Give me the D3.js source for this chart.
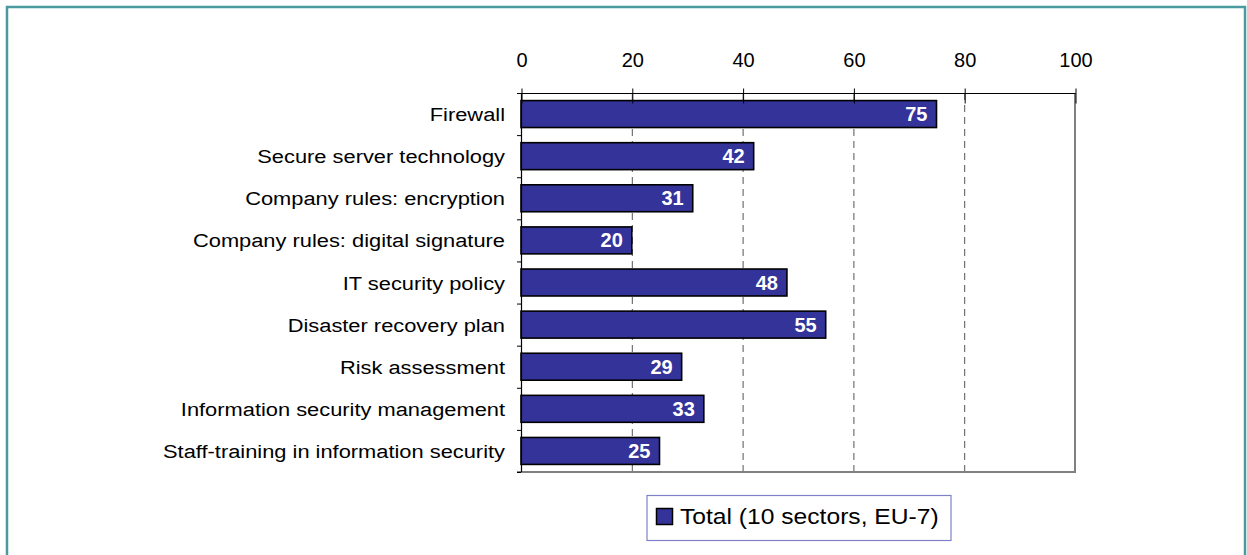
<!DOCTYPE html>
<html>
<head>
<meta charset="utf-8">
<script src="https://cdn.jsdelivr.net/npm/d3@7"></script>
<style>
  html, body { margin: 0; padding: 0; background: #fff; }
  svg { display: block; font-family: "Liberation Sans", Arial, sans-serif; }
</style>
</head>
<body>
<svg id="chart" width="1247" height="555"></svg>
<script>
// Security measures in place (% of enterprises)
const categories = [
  "Firewall",
  "Secure server technology",
  "Company rules: encryption",
  "Company rules: digital signature",
  "IT security policy",
  "Disaster recovery plan",
  "Risk assessment",
  "Information security management",
  "Staff-training in information security"
];
const values = [75, 42, 31, 20, 48, 55, 29, 33, 25];
const xTicks = [0, 20, 40, 60, 80, 100];
const seriesName = "Total (10 sectors, EU-7)";

const svg = d3.select("#chart");
const W = 1247, H = 555;
const plot = { left: 521, right: 1075, top: 93, bottom: 472 };
const wideText = 1.15; // horizontally widened label lettering

svg.append("rect").attr("width", W).attr("height", H).attr("fill", "#fff");

// outer frame
svg.append("rect")
  .attr("x", 7).attr("y", 7)
  .attr("width", 1238).attr("height", 620)
  .attr("fill", "none")
  .attr("stroke", "#4A9AA0")
  .attr("stroke-width", 2.5);

const x = d3.scaleLinear().domain([0, 100]).range([plot.left, plot.right]);
const y = d3.scaleBand().domain(categories).range([plot.top, plot.bottom])
  .paddingInner(0.36).paddingOuter(0.18);

// dashed vertical gridlines
svg.append("g").selectAll("line")
  .data(xTicks.filter(t => t > 0 && t < 100))
  .join("line")
  .attr("x1", d => x(d) + 0.5).attr("x2", d => x(d) + 0.5)
  .attr("y1", plot.top).attr("y2", plot.bottom)
  .attr("stroke", "#555")
  .attr("stroke-width", 1)
  .attr("stroke-dasharray", "7,5");

// right and bottom plot edges
svg.append("line")
  .attr("x1", plot.right).attr("x2", plot.right)
  .attr("y1", plot.top).attr("y2", plot.bottom)
  .attr("stroke", "#808080").attr("stroke-width", 2);
svg.append("line")
  .attr("x1", plot.left - 4).attr("x2", plot.right + 1)
  .attr("y1", plot.bottom).attr("y2", plot.bottom)
  .attr("stroke", "#808080").attr("stroke-width", 2);

// bars
svg.append("g").selectAll("rect")
  .data(values)
  .join("rect")
  .attr("x", plot.left)
  .attr("y", (d, i) => y(categories[i]))
  .attr("width", d => x(d) - x(0))
  .attr("height", y.bandwidth())
  .attr("fill", "#333399")
  .attr("stroke", "#000")
  .attr("stroke-width", 1.6);

// value labels
svg.append("g").selectAll("text")
  .data(values)
  .join("text")
  .attr("x", d => x(d) - 9)
  .attr("y", (d, i) => y(categories[i]) + y.bandwidth() / 2 + 7)
  .attr("text-anchor", "end")
  .attr("fill", "#fff")
  .attr("font-weight", "bold")
  .attr("font-size", 20)
  .text(d => d);

// top axis
const xAxis = d3.axisTop(x).tickValues(xTicks).tickSize(5).tickPadding(22);
const gx = svg.append("g").attr("transform", `translate(0.5,${plot.top + 0.5})`).call(xAxis);
gx.select(".domain").remove();
gx.selectAll(".tick line").attr("y2", 10).attr("y1", -5).attr("stroke", "#000");
gx.selectAll(".tick text").attr("font-size", 20).attr("font-family", "Liberation Sans, Arial, sans-serif").attr("fill", "#000");
svg.append("line")
  .attr("x1", plot.left - 4).attr("x2", plot.right + 0.5)
  .attr("y1", plot.top + 0.5).attr("y2", plot.top + 0.5)
  .attr("stroke", "#000").attr("stroke-width", 1.2);

// left axis with ticks between categories
const bounds = d3.range(categories.length + 1).map(i => plot.top + i * (plot.bottom - plot.top) / categories.length);
svg.append("line")
  .attr("x1", plot.left + 0.5).attr("x2", plot.left + 0.5)
  .attr("y1", plot.top).attr("y2", plot.bottom)
  .attr("stroke", "#000").attr("stroke-width", 1.2);
svg.append("g").selectAll("line")
  .data(bounds)
  .join("line")
  .attr("x1", plot.left - 4).attr("x2", plot.left)
  .attr("y1", d => d + 0.5).attr("y2", d => d + 0.5)
  .attr("stroke", "#000");

// category labels
svg.append("g").selectAll("text")
  .data(categories)
  .join("text")
  .attr("transform", d => `translate(505,${y(d) + y.bandwidth() / 2 + 7}) scale(${wideText},1)`)
  .attr("text-anchor", "end")
  .attr("font-size", 19)
  .attr("fill", "#000")
  .text(d => d);

// legend
const lg = svg.append("g");
lg.append("rect")
  .attr("x", 647).attr("y", 495.5).attr("width", 304).attr("height", 45)
  .attr("fill", "#fff").attr("stroke", "#8080C8").attr("stroke-width", 1.2);
lg.append("rect")
  .attr("x", 656.5).attr("y", 508.5).attr("width", 16).attr("height", 16)
  .attr("fill", "#333399").attr("stroke", "#000").attr("stroke-width", 1.5);
lg.append("text")
  .attr("transform", "translate(680,524) scale(1.12,1)")
  .attr("font-size", 22)
  .attr("fill", "#000")
  .text(seriesName);
</script>
</body>
</html>
